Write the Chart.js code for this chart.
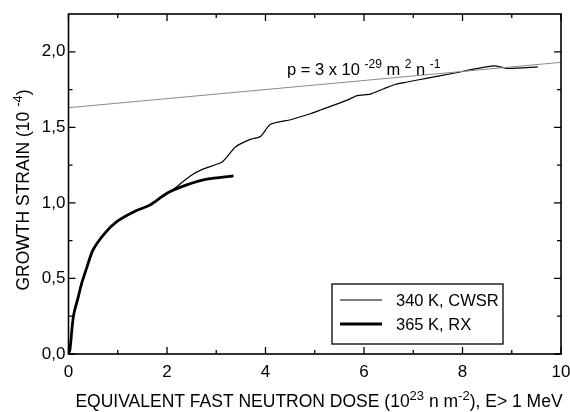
<!DOCTYPE html>
<html>
<head>
<meta charset="utf-8">
<script src="https://cdn.jsdelivr.net/npm/chart.js@4/dist/chart.umd.min.js"></script>
<style>
  html, body { margin: 0; padding: 0; background: #fff; }
  #wrap { width: 570px; height: 412px; }
</style>
</head>
<body>
<div id="wrap"><canvas id="chart"></canvas></div>
<script>
// Data
var doseCWSR = [0, 0.03, 0.1, 0.2, 0.27, 0.37, 0.5, 0.74, 0.98, 1.32, 1.66, 2.0, 2.13, 2.48, 2.74, 3.12, 3.39, 3.69, 3.90, 4.10, 4.51, 4.71, 4.91, 5.12, 5.66, 5.86, 6.13, 6.40, 6.64, 6.88, 7.29, 7.82, 8.23, 8.64, 8.92, 9.53];
var strainCWSR = [0, 0.03, 0.25, 0.38, 0.47, 0.57, 0.69, 0.80, 0.875, 0.94, 0.99, 1.06, 1.09, 1.18, 1.225, 1.27, 1.37, 1.42, 1.44, 1.52, 1.55, 1.57, 1.59, 1.615, 1.68, 1.71, 1.72, 1.755, 1.785, 1.80, 1.826, 1.858, 1.885, 1.907, 1.89, 1.90];
var doseRX = [0, 0.03, 0.1, 0.2, 0.27, 0.37, 0.5, 0.74, 0.98, 1.32, 1.66, 2.0, 2.40, 2.81, 3.35];
var strainRX = [0, 0.03, 0.25, 0.38, 0.47, 0.57, 0.69, 0.80, 0.876, 0.94, 0.987, 1.064, 1.119, 1.157, 1.179];
var doseFit = [0, 10];
var strainFit = [1.63, 1.93];

var xTicks = [0, 2, 4, 6, 8, 10];
var xMinor = [1, 3, 5, 7, 9];
var yTicks = [0, 0.5, 1.0, 1.5, 2.0];
var yMinor = [0.25, 0.75, 1.25, 1.75];
var seriesLabels = ['340 K, CWSR', '365 K, RX'];

var FONT = '"Liberation Sans", Arial, sans-serif';

function toPoints(xs, ys) {
  return xs.map(function(x, i) { return { x: x, y: ys[i] }; });
}

// draw a string made of [text, isSuperscript] pieces
function drawRich(ctx, parts, x, y, size) {
  var cx = x;
  parts.forEach(function(p) {
    var sup = p[1];
    ctx.font = (sup ? Math.round(size * 0.72) : size) + 'px ' + FONT;
    ctx.fillText(p[0], cx, sup ? y - size * 0.4 : y);
    cx += ctx.measureText(p[0]).width;
  });
  return cx - x;
}
function richWidth(ctx, parts, size) {
  var w = 0;
  parts.forEach(function(p) {
    ctx.font = (p[1] ? Math.round(size * 0.72) : size) + 'px ' + FONT;
    w += ctx.measureText(p[0]).width;
  });
  return w;
}

var decorPlugin = {
  id: 'decor',
  afterDraw: function(chart) {
    var ctx = chart.ctx;
    var a = chart.chartArea;
    var xs = chart.scales.x, ys = chart.scales.y;
    ctx.save();
    ctx.strokeStyle = '#000';
    ctx.fillStyle = '#000';

    // frame
    ctx.lineWidth = 1.6;
    ctx.strokeRect(a.left, a.top, a.right - a.left, a.bottom - a.top);

    // inward ticks on all four sides
    ctx.lineWidth = 1.3;
    ctx.beginPath();
    function xt(v, len) {
      var px = xs.getPixelForValue(v);
      ctx.moveTo(px, a.bottom); ctx.lineTo(px, a.bottom - len);
      ctx.moveTo(px, a.top); ctx.lineTo(px, a.top + len);
    }
    function yt(v, len) {
      var py = ys.getPixelForValue(v);
      ctx.moveTo(a.left, py); ctx.lineTo(a.left + len, py);
      ctx.moveTo(a.right, py); ctx.lineTo(a.right - len, py);
    }
    xTicks.forEach(function(v) { xt(v, 7); });
    xMinor.forEach(function(v) { xt(v, 4); });
    yTicks.forEach(function(v) { yt(v, 7); });
    yMinor.forEach(function(v) { yt(v, 4); });
    ctx.stroke();

    // fit label
    ctx.textBaseline = 'alphabetic';
    ctx.textAlign = 'left';
    drawRich(ctx, [['p = 3 x 10 ', false], ['-29', true], [' m ', false], ['2', true], [' n ', false], ['-1', true]], 287, 75, 16.5);

    // legend box
    var lx = 332, ly = 284, lw = 171, lh = 60;
    ctx.fillStyle = '#fff';
    ctx.fillRect(lx, ly, lw, lh);
    ctx.fillStyle = '#000';
    ctx.lineWidth = 1.3;
    ctx.strokeRect(lx, ly, lw, lh);
    var widths = [1.1, 2.8];
    seriesLabels.forEach(function(lab, i) {
      var yy = ly + 16 + i * 24;
      ctx.lineWidth = widths[i];
      ctx.beginPath();
      ctx.moveTo(lx + 8, yy); ctx.lineTo(lx + 50, yy);
      ctx.stroke();
      ctx.font = '16.5px ' + FONT;
      ctx.textBaseline = 'middle';
      ctx.fillText(lab, lx + 64, yy + 1);
    });

    // axis titles with superscripts
    ctx.textBaseline = 'alphabetic';
    var xt1 = [['EQUIVALENT FAST NEUTRON DOSE (10', false], ['23', true], [' n m', false], ['-2', true], ['), E> 1 MeV', false]];
    var w = richWidth(ctx, xt1, 17.5);
    drawRich(ctx, xt1, 319 - w / 2, 407, 17.5);

    var yt1 = [['GROWTH STRAIN (10 ', false], ['-4', true], [')', false]];
    var wy = richWidth(ctx, yt1, 17.5);
    ctx.translate(29, 190);
    ctx.rotate(-Math.PI / 2);
    drawRich(ctx, yt1, -wy / 2, 0, 17.5);
    ctx.restore();
  }
};

var ctx = document.getElementById('chart').getContext('2d');
new Chart(ctx, {
  type: 'scatter',
  data: {
    datasets: [
      {
        label: 'fit',
        data: toPoints(doseFit, strainFit),
        showLine: true,
        borderColor: '#8a8a8a',
        borderWidth: 1,
        pointRadius: 0
      },
      {
        label: seriesLabels[0],
        data: toPoints(doseCWSR, strainCWSR),
        showLine: true,
        borderColor: '#000',
        borderWidth: 1.2,
        pointRadius: 0,
        tension: 0.2
      },
      {
        label: seriesLabels[1],
        data: toPoints(doseRX, strainRX),
        showLine: true,
        borderColor: '#000',
        borderWidth: 2.8,
        pointRadius: 0,
        tension: 0.3
      }
    ]
  },
  options: {
    responsive: true,
    maintainAspectRatio: false,
    animation: false,
    layout: { padding: { top: 14, right: 9, left: 0, bottom: 0 } },
    plugins: {
      legend: { display: false },
      tooltip: { enabled: false }
    },
    scales: {
      x: {
        type: 'linear',
        min: 0,
        max: 10,
        grid: { display: false, drawTicks: false },
        border: { display: false },
        afterBuildTicks: function(s) { s.ticks = xTicks.map(function(v) { return { value: v }; }); },
        afterFit: function(s) { s.height = 58; s.paddingRight = 0; s.paddingLeft = 0; },
        ticks: {
          padding: 8,
          color: '#000',
          font: { family: FONT, size: 17 },
          maxRotation: 0
        }
      },
      y: {
        type: 'linear',
        min: 0,
        max: 2.25,
        grid: { display: false, drawTicks: false },
        border: { display: false },
        afterBuildTicks: function(s) { s.ticks = yTicks.map(function(v) { return { value: v }; }); },
        afterFit: function(s) { s.width = 68.5; s.paddingTop = 0; s.paddingBottom = 0; },
        ticks: {
          padding: 3,
          color: '#000',
          font: { family: FONT, size: 17 },
          callback: function(v) { return v.toFixed(1).replace('.', ','); }
        }
      }
    }
  },
  plugins: [decorPlugin]
});
</script>
</body>
</html>
